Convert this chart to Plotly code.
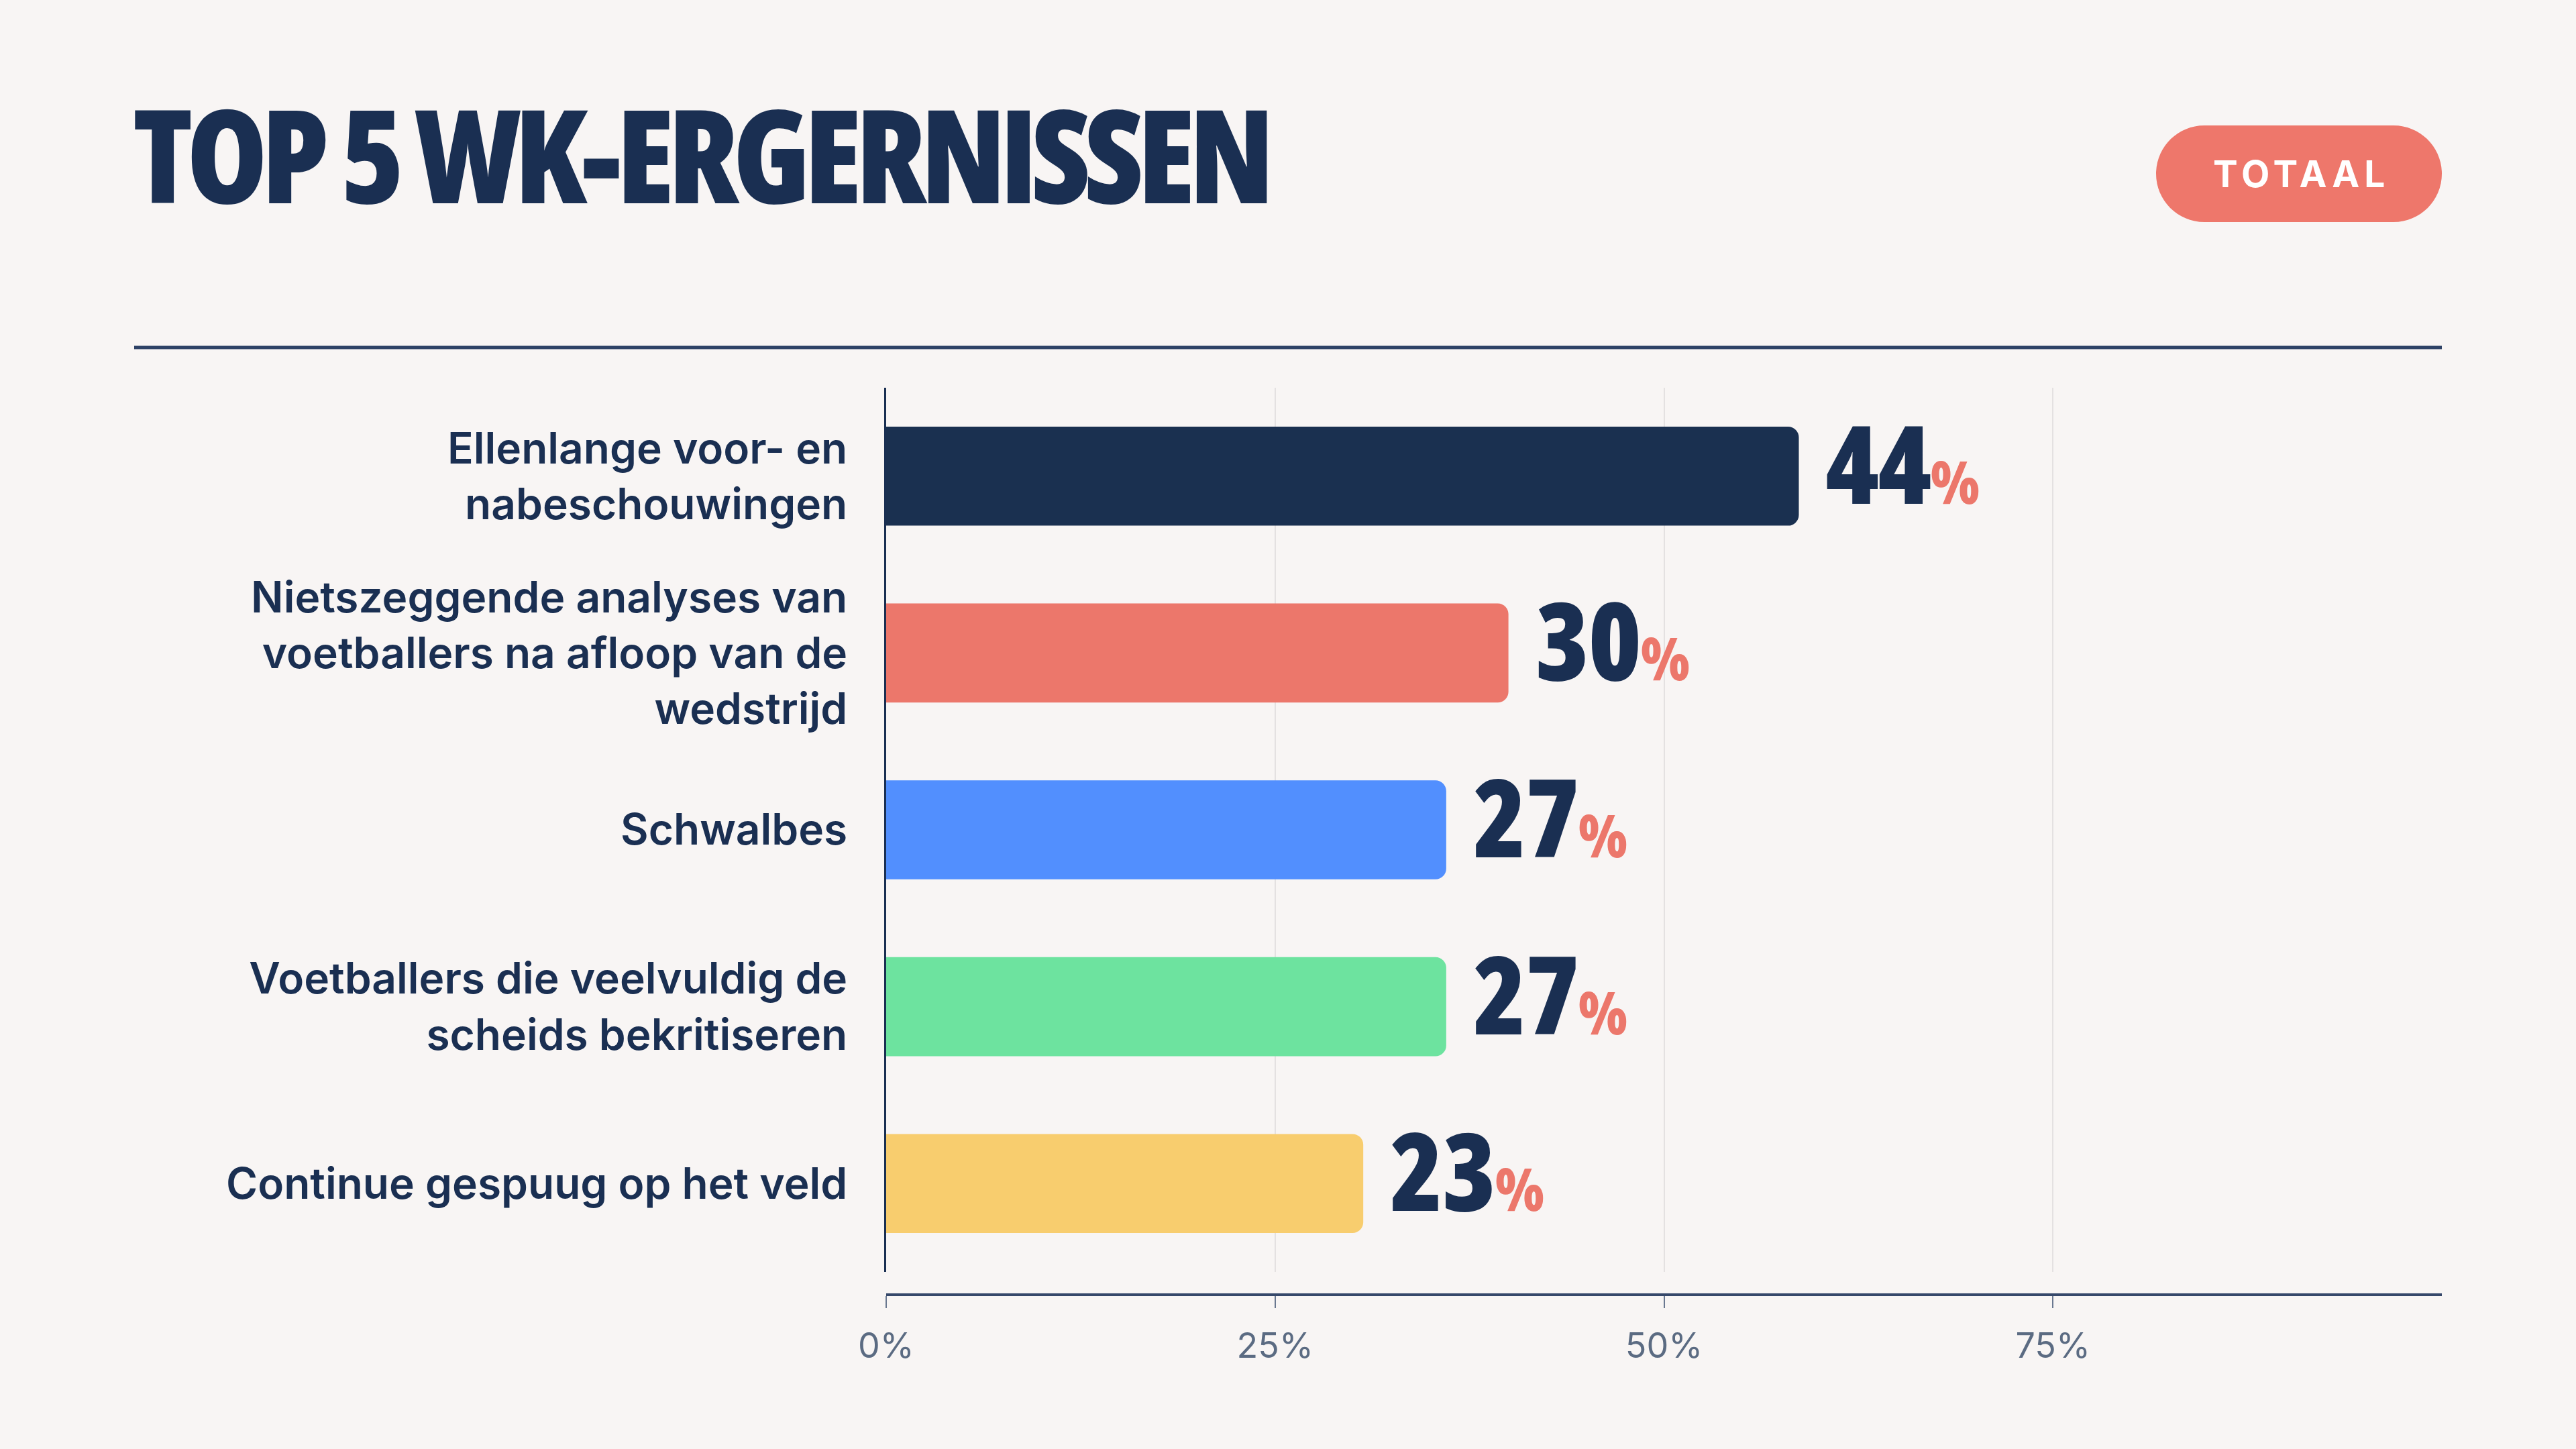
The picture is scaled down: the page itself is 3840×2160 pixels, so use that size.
import plotly.graph_objects as go

W, H = 3840, 2160

# ---- data ----
categories = [
    "Ellenlange voor- en nabeschouwingen",
    "Nietszeggende analyses van voetballers na afloop van de wedstrijd",
    "Schwalbes",
    "Voetballers die veelvuldig de scheids bekritiseren",
    "Continue gespuug op het veld",
]
tick_labels = [
    "Ellenlange voor- en<br>nabeschouwingen",
    "Nietszeggende analyses van<br>voetballers na afloop van de<br>wedstrijd",
    "Schwalbes",
    "Voetballers die veelvuldig de<br>scheids bekritiseren",
    "Continue gespuug op het veld",
]
values = [44, 30, 27, 27, 23]
bar_colors = ["#1a3050", "#ec776b", "#528ffe", "#6de39f", "#f8cd6e"]
axis_ticks = [0, 25, 50, 75]
axis_tick_labels = ["0%", "25%", "50%", "75%"]
title_text = "TOP 5 WK-ERGERNISSEN"
badge_text = "TOTAAL"

NAVY = "#1a2f52"
CORAL = "#ec776b"
BG = "#f8f5f4"
COND = "Open Sans, sans-serif"
SANS = "Inter, Roboto, Noto Sans, sans-serif"


def px_x(p):
    return p / W


def px_y(p):
    return 1 - p / H


fig = go.Figure()
fig.add_trace(go.Bar(
    y=categories, x=values, orientation="h",
    xaxis="x", yaxis="y",
    marker=dict(color=bar_colors, cornerradius=16, line=dict(width=0)),
    width=0.56, hoverinfo="skip", showlegend=False,
))
# empty trace that carries the visible percentage scale (x2)
fig.add_trace(go.Scatter(x=[], y=[], xaxis="x2", yaxis="y", mode="markers",
                         hoverinfo="skip", showlegend=False))

annotations = []
for c, v in zip(categories, values):
    annotations.append(dict(
        x=v, y=c, xref="x", yref="y",
        xanchor="left", yanchor="middle", xshift=38, yshift=22,
        showarrow=False,
        text=(f"<span style='font-stretch:75%;letter-spacing:-2px'>{v}</span>"
              f"<span style='font-stretch:75%;font-size:88px;color:{CORAL}'>%</span>"),
        font=dict(family=COND, size=162, color=NAVY, weight=800),
    ))

# title
annotations.append(dict(
    x=px_x(196), y=px_y(228), xref="paper", yref="paper",
    xanchor="left", yanchor="middle", showarrow=False,
    text=f"<span style='font-stretch:75%;letter-spacing:-9px'>{title_text}</span>",
    font=dict(family=COND, size=194, color=NAVY, weight=800),
))
# badge text
annotations.append(dict(
    x=px_x(3430), y=px_y(259), xref="paper", yref="paper",
    xanchor="center", yanchor="middle", showarrow=False,
    text=f"<span style='letter-spacing:7px'>{badge_text}</span>",
    font=dict(family=SANS, size=55, color="white", weight="bold"),
))


def pill_path(x0, y0, x1, y1):
    r = (y1 - y0) / 2
    k = 0.5523 * r

    def P(x, y):
        return f"{px_x(x):.6f},{px_y(y):.6f}"
    d = f"M {P(x0 + r, y0)} L {P(x1 - r, y0)} "
    d += f"C {P(x1 - r + k, y0)} {P(x1, y0 + r - k)} {P(x1, y0 + r)} "
    d += f"C {P(x1, y0 + r + k)} {P(x1 - r + k, y1)} {P(x1 - r, y1)} "
    d += f"L {P(x0 + r, y1)} "
    d += f"C {P(x0 + r - k, y1)} {P(x0, y0 + r + k)} {P(x0, y0 + r)} "
    d += f"C {P(x0, y0 + r - k)} {P(x0 + r - k, y0)} {P(x0 + r, y0)} Z"
    return d


shapes = [
    dict(type="path", xref="paper", yref="paper",
         path=pill_path(3214, 187, 3640, 331),
         fillcolor="#ee776b", line=dict(width=0), layer="below"),
    dict(type="line", xref="paper", yref="paper",
         x0=px_x(200), x1=px_x(3640), y0=px_y(518), y1=px_y(518),
         line=dict(color="#2e4266", width=5)),
]

x_domain = [px_x(1321), px_x(3640)]
fig.update_layout(
    width=W, height=H, autosize=False,
    margin=dict(l=0, r=0, t=0, b=0, autoexpand=False),
    paper_bgcolor=BG, plot_bgcolor=BG,
    showlegend=False,
    annotations=annotations, shapes=shapes,
    xaxis=dict(
        domain=x_domain, range=[0, 75], anchor="y", automargin=False,
        showticklabels=False, showline=False, showgrid=False, zeroline=False,
        ticks="", fixedrange=True,
    ),
    xaxis2=dict(
        overlaying="x", range=[0, 100], anchor="free", position=px_y(1930),
        automargin=False, side="bottom",
        showline=True, linecolor="#36486a", linewidth=4,
        ticks="outside", ticklen=18, tickwidth=2, tickcolor="#6a7890",
        tickvals=axis_ticks, ticktext=axis_tick_labels,
        tickfont=dict(family=SANS, size=52, color="#5b6b82"),
        ticklabelstandoff=12,
        showgrid=True, gridcolor="#e4e1e1", gridwidth=2, zeroline=False,
        fixedrange=True,
    ),
    yaxis=dict(
        domain=[px_y(1896), px_y(578)], type="category",
        range=[4.5, -0.5], anchor="x", automargin=False,
        tickvals=categories, ticktext=tick_labels,
        showline=True, linecolor=NAVY, linewidth=3,
        ticks="", ticklabelstandoff=42,
        tickfont=dict(family=SANS, size=64, color=NAVY, weight=600),
        showgrid=False, zeroline=False, fixedrange=True,
    ),
)

fig.write_html("out.html")
